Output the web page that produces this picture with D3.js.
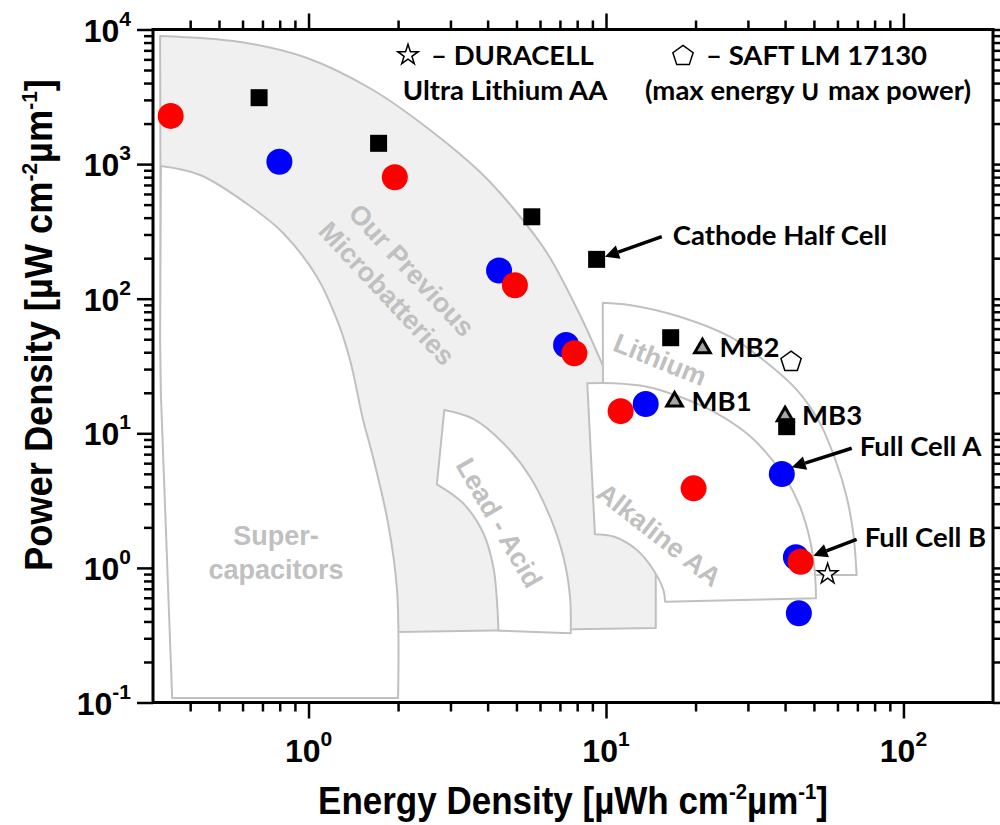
<!DOCTYPE html>
<html>
<head>
<meta charset="utf-8">
<script src="https://cdn.jsdelivr.net/npm/d3@7"></script>
<style>
  body { margin: 0; background: #fff; }
  svg { display: block; }
</style>
</head>
<body>
<svg id="vis" width="1000" height="825"></svg>
<script>
// ---- datos (energia µWh cm-2 µm-1, potencia µW cm-2 µm-1) ----
const redCells = [[0.344, 2280], [1.95, 798], [4.94, 126], [7.83, 39.3], [11.2, 14.6], [19.7, 3.9], [45.1, 1.11]];
const blueCells = [[0.798, 1040], [4.37, 162], [7.34, 45.3], [13.6, 16.5], [39.0, 4.99], [43.5, 1.2], [44.5, 0.46]];
const halfCells = [[0.682, 3115], [1.72, 1427], [5.63, 406], [9.3, 196], [16.5, 51.3], [40.5, 11.2]];
const mbCells = [[17.0, 17.2], [21.1, 42.8], [40.0, 13.4]];
const mbNames = ["MB1", "MB2", "MB3"];
const saftCell = [[41.9, 34.0]];
const duracellCell = [[55.6, 0.9]];

// regiones (bordes)
const microArc = [[0.317, 8950], [0.589, 8074], [0.988, 6142], [1.647, 3552], [2.561, 1792], [3.772, 873], [4.868, 472], [6.336, 218.6], [8.176, 75.6], [9.77, 31.6]];
const microEdge = [[14.7, 1.15], [14.7, 0.358], [1.98, 0.334], [0.319, 18.9]];
const superArc = [[0.319, 968], [0.432, 830], [0.636, 488], [0.821, 308], [1.068, 145], [1.247, 69.5], [1.379, 35], [1.525, 12.6], [1.647, 6.67], [1.85, 2.16], [1.984, 0.685], [2.0, 0.108]];
const superEdge = [[0.348, 0.108], [0.319, 18.9], [0.317, 50]];
const leadOuter = [[2.86, 14.9], [3.58, 12.8], [4.52, 8.43], [5.55, 4.76], [6.48, 2.4], [7.19, 1.21], [7.57, 0.611], [7.61, 0.327]];
const leadInner = [[4.35, 0.342], [4.29, 0.611], [4.18, 1.02], [3.87, 1.81], [3.31, 3.02], [2.7, 4.18]];
const alkOuter = [[8.65, 23.5], [10.6, 23.5], [13.7, 22.2], [17.7, 18.7], [23.0, 14.5], [29.7, 10.0], [34.7, 7.1], [40.5, 4.5], [44.9, 2.85], [48.5, 1.61], [50.4, 0.912], [50.8, 0.594]];
const alkInner = [[15.8, 0.561], [15.6, 0.685], [14.2, 1.02], [12.7, 1.36], [10.6, 1.71], [9.18, 1.78]];
const lithOuter = [[9.75, 93.4], [12.0, 89.8], [17.7, 73.5], [26.1, 52.2], [33.8, 35.0], [43.8, 21.0], [52.4, 11.9], [59.6, 5.99], [64.4, 3.38], [67.8, 1.81], [69.6, 0.886]];
const lithEdge = [[50.4, 0.886], [9.77, 23.6]];

// ticks
const xMajor = [1, 10, 100];
const yMajor = [0.1, 1, 10, 100, 1000, 10000];
const xMinor = [0.4, 0.5, 0.6, 0.7, 0.8, 0.9, 2, 3, 4, 5, 6, 7, 8, 9, 20, 30, 40, 50, 60, 70, 80, 90];
const yMinor = [0.2, 0.3, 0.4, 0.5, 0.6, 0.7, 0.8, 0.9, 2, 3, 4, 5, 6, 7, 8, 9, 20, 30, 40, 50, 60, 70, 80, 90,
  200, 300, 400, 500, 600, 700, 800, 900, 2000, 3000, 4000, 5000, 6000, 7000, 8000, 9000];

const SVG = d3.select("#vis");
const x = d3.scaleLog().domain([0.3, 200]).range([153, 993]);
const y = d3.scaleLog().domain([0.1, 10000]).range([702.5, 29.5]);

const AXFONT = "'Liberation Sans', Arial, sans-serif";
const NOTEFONT = "Lato, 'Open Sans', sans-serif";
const GRAY = "#c0c0c0";

// ---- regiones ----
const smooth = d3.line().x(d => x(d[0])).y(d => y(d[1])).curve(d3.curveCatmullRom.alpha(0.5));
function regionPath(parts) {
  let p = "";
  parts.forEach((part, i) => {
    let s;
    if (part.curve) s = smooth(part.pts);
    else s = "M" + part.pts.map(d => x(d[0]) + "," + y(d[1])).join("L");
    p += i === 0 ? s : s.replace(/^M/, "L");
  });
  return p + "Z";
}

const regions = [
  { fill: "#f0f0f0", parts: [{ curve: true, pts: microArc }, { curve: false, pts: microEdge }] },
  { fill: "#fff", parts: [{ curve: true, pts: lithOuter }, { curve: false, pts: lithEdge }] },
  { fill: "#fff", parts: [{ curve: true, pts: alkOuter }, { curve: true, pts: alkInner }] },
  { fill: "#fff", parts: [{ curve: true, pts: leadOuter }, { curve: true, pts: leadInner }] },
  { fill: "#fff", parts: [{ curve: true, pts: superArc }, { curve: false, pts: superEdge }] }
];

SVG.append("g").selectAll("path")
  .data(regions)
  .join("path")
  .attr("d", d => regionPath(d.parts))
  .attr("fill", d => d.fill)
  .attr("stroke", GRAY)
  .attr("stroke-width", 2)
  .attr("stroke-linejoin", "round");

// textos de las regiones
const regionText = SVG.append("g")
  .attr("font-family", AXFONT)
  .attr("font-weight", "bold")
  .attr("font-size", 27)
  .attr("fill", GRAY)
  .attr("text-anchor", "middle")
  .attr("dominant-baseline", "central");

function rotLabel(cx, cy, ang, lines, gap) {
  const g = regionText.append("g").attr("transform", `translate(${cx},${cy}) rotate(${ang})`);
  lines.forEach((t, i) => {
    g.append("text").attr("y", (i - (lines.length - 1) / 2) * gap).text(t);
  });
}
rotLabel(399, 282, 47, ["Our Previous", "Microbatteries"], 34);
rotLabel(660, 360, 22, ["Lithium"], 0);
rotLabel(659, 535, 38, ["Alkaline AA"], 0);
rotLabel(499, 523, 60, ["Lead - Acid"], 0);
rotLabel(276, 553, 0, ["Super-", "capacitors"], 34);

// ---- ejes ----
const axes = SVG.append("g");
function tickAxis(gen, pos, values, size) {
  axes.append("g")
    .attr("transform", pos)
    .call(gen.tickValues(values).tickSize(size).tickSizeOuter(0).tickFormat(""))
    .call(g => g.select(".domain").remove())
    .call(g => g.selectAll("line").attr("stroke", "#000").attr("stroke-width", 2.5));
}
tickAxis(d3.axisBottom(x), "translate(0,702.5)", xMajor, 16);
tickAxis(d3.axisBottom(x), "translate(0,702.5)", xMinor, 9);
tickAxis(d3.axisTop(x), "translate(0,29.5)", xMajor, 16);
tickAxis(d3.axisTop(x), "translate(0,29.5)", xMinor, 9);
tickAxis(d3.axisLeft(y), "translate(153,0)", yMajor, 16);
tickAxis(d3.axisLeft(y), "translate(153,0)", yMinor, 9);
tickAxis(d3.axisRight(y), "translate(993,0)", yMajor, 16);
tickAxis(d3.axisRight(y), "translate(993,0)", yMinor, 9);

axes.append("rect")
  .attr("x", 153).attr("y", 29.5)
  .attr("width", 840).attr("height", 673)
  .attr("fill", "none").attr("stroke", "#000").attr("stroke-width", 3);

function powText(sel, v) {
  sel.append("tspan").text("10");
  sel.append("tspan").attr("dy", -16).attr("font-size", 21).text(Math.round(Math.log10(v)));
}
const labels = SVG.append("g")
  .attr("font-family", AXFONT)
  .attr("font-weight", "bold")
  .attr("font-size", 32)
  .attr("fill", "#000");

labels.selectAll(".ylab")
  .data(yMajor)
  .join("text")
  .attr("class", "ylab")
  .attr("x", 131)
  .attr("y", d => y(d) + 12)
  .attr("text-anchor", "end")
  .each(function (d) { powText(d3.select(this), d); });

labels.selectAll(".xlab")
  .data(xMajor)
  .join("text")
  .attr("class", "xlab")
  .attr("x", d => x(d))
  .attr("y", 762)
  .attr("text-anchor", "middle")
  .each(function (d) { powText(d3.select(this), d); });

// titulos (ajustados al ancho del original)
function title(parts, transform, target) {
  const t = SVG.append("text")
    .attr("font-family", AXFONT)
    .attr("font-weight", "bold")
    .attr("font-size", 38)
    .attr("text-anchor", "middle");
  parts.forEach(p => {
    const s = t.append("tspan").text(p.t);
    if (p.sup) s.attr("font-size", 22).attr("dy", -15);
    if (p.down) s.attr("dy", 15);
  });
  const w = t.node().getComputedTextLength();
  t.attr("transform", transform + ` scale(${target / w},1)`);
}
title([{ t: "Energy Density [µWh cm" }, { t: "-2", sup: true }, { t: "µm", down: true }, { t: "-1", sup: true }, { t: "]", down: true }],
  "translate(573,814)", 510);
title([{ t: "Power Density [µW cm" }, { t: "-2", sup: true }, { t: "µm", down: true }, { t: "-1", sup: true }, { t: "]", down: true }],
  "translate(52,325) rotate(-90)", 492);

// ---- marcadores ----
const marks = SVG.append("g");
function sym(type, size) { return d3.symbol().type(type).size(size); }
const symbolPentagon = {
  draw(ctx, size) {
    const r = Math.sqrt(size / 2.378);
    for (let i = 0; i < 5; i++) {
      const a = -Math.PI / 2 + i * 2 * Math.PI / 5;
      if (i) ctx.lineTo(r * Math.cos(a), r * Math.sin(a));
      else ctx.moveTo(r * Math.cos(a), r * Math.sin(a));
    }
    ctx.closePath();
  }
};

marks.selectAll(".mb")
  .data(mbCells)
  .join("path")
  .attr("class", "mb")
  .attr("transform", d => `translate(${x(d[0])},${y(d[1])})`)
  .attr("d", sym(d3.symbolTriangle, 105))
  .attr("fill", "#a6a6a6").attr("stroke", "#000").attr("stroke-width", 3);

marks.selectAll(".half")
  .data(halfCells)
  .join("path")
  .attr("class", "half")
  .attr("transform", d => `translate(${x(d[0])},${y(d[1])})`)
  .attr("d", sym(d3.symbolSquare, 289))
  .attr("fill", "#000");

// circulos rojos y azules, dibujados por energia creciente
const cells = redCells.map(d => ({ d, c: "#ff0000" }))
  .concat(blueCells.map(d => ({ d, c: "#0000ff" })))
  .sort((a, b) => a.d[0] - b.d[0]);

marks.selectAll(".cell")
  .data(cells)
  .join("circle")
  .attr("class", "cell")
  .attr("cx", e => x(e.d[0])).attr("cy", e => y(e.d[1]))
  .attr("r", 13).attr("fill", e => e.c);

marks.selectAll(".saft")
  .data(saftCell)
  .join("path")
  .attr("class", "saft")
  .attr("transform", d => `translate(${x(d[0])},${y(d[1])})`)
  .attr("d", sym(symbolPentagon, 270))
  .attr("fill", "#fff").attr("stroke", "#000").attr("stroke-width", 1.5);

marks.selectAll(".dura")
  .data(duracellCell)
  .join("path")
  .attr("class", "dura")
  .attr("transform", d => `translate(${x(d[0])},${y(d[1])})`)
  .attr("d", sym(d3.symbolStar, 130))
  .attr("fill", "#fff").attr("stroke", "#000").attr("stroke-width", 1.5);

// ---- anotaciones ----
const notes = SVG.append("g")
  .attr("font-family", NOTEFONT)
  .attr("font-weight", "bold")
  .attr("font-size", 27.5)
  .attr("fill", "#000");

notes.selectAll(".mblab")
  .data(mbCells)
  .join("text")
  .attr("class", "mblab")
  .attr("x", d => x(d[0]) + 17)
  .attr("y", d => y(d[1]) + 9)
  .text((d, i) => mbNames[i]);

function arrow(from, to, label, dx, dy) {
  const x0 = x(from[0]), y0 = y(from[1]), x1 = x(to[0]), y1 = y(to[1]);
  const ang = Math.atan2(y1 - y0, x1 - x0);
  const L = 14, Wd = 7;
  const bx = x1 - L * Math.cos(ang), by = y1 - L * Math.sin(ang);
  notes.append("line")
    .attr("x1", x0).attr("y1", y0).attr("x2", bx).attr("y2", by)
    .attr("stroke", "#000").attr("stroke-width", 3.5);
  notes.append("path")
    .attr("d", `M${x1},${y1}L${bx - Wd * Math.sin(ang)},${by + Wd * Math.cos(ang)}L${bx + Wd * Math.sin(ang)},${by - Wd * Math.cos(ang)}Z`)
    .attr("fill", "#000");
  notes.append("text").attr("x", x0 + dx).attr("y", y0 + dy).text(label);
}
arrow([15.4, 289], [9.92, 205], "Cathode Half Cell", 11, 8);
arrow([67.0, 7.74], [42.1, 5.59], "Full Cell A", 8, 8);
arrow([69.6, 1.63], [49.8, 1.23], "Full Cell B", 8, 8);

// leyenda superior
SVG.append("path")
  .attr("transform", "translate(408,55)")
  .attr("d", sym(d3.symbolStar, 130))
  .attr("fill", "#fff").attr("stroke", "#000").attr("stroke-width", 1.5);
SVG.append("path")
  .attr("transform", "translate(683,56)")
  .attr("d", sym(symbolPentagon, 270))
  .attr("fill", "#fff").attr("stroke", "#000").attr("stroke-width", 1.5);
notes.append("text").attr("x", 431).attr("y", 65).text("– DURACELL");
notes.append("text").attr("x", 505).attr("y", 100).attr("text-anchor", "middle").text("Ultra Lithium AA");
notes.append("text").attr("x", 706).attr("y", 65).text("– SAFT LM 17130");
notes.append("text").attr("x", 808).attr("y", 100).attr("text-anchor", "middle").text("(max energy ∪ max power)");
</script>
</body>
</html>
